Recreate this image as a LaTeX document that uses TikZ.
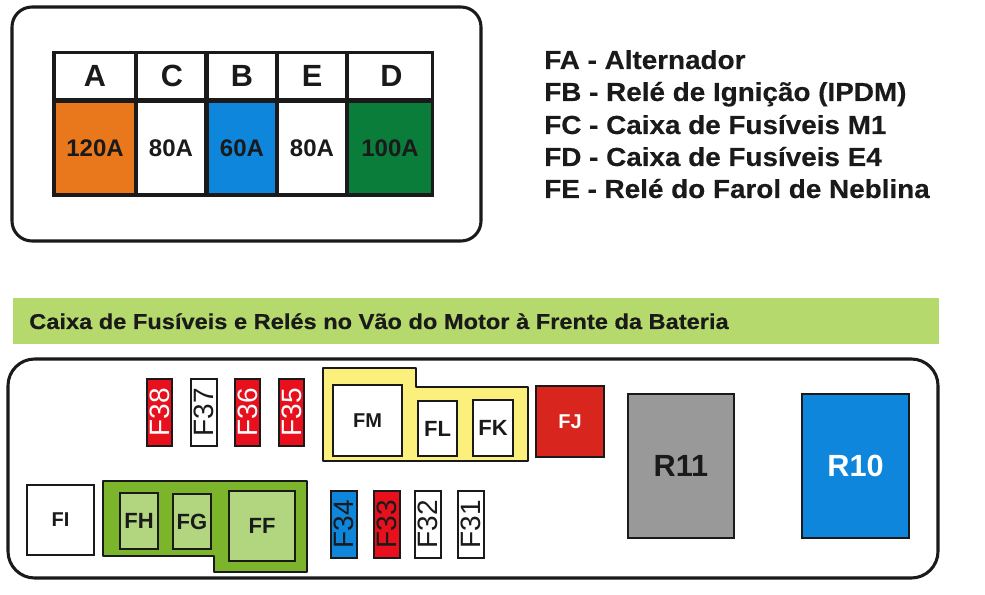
\documentclass[tikz,border=0pt]{standalone}
\usepackage{fontspec}
\setmainfont{Liberation Sans}
\newfontfamily\legendfont[FakeStretch=1.066,FakeBold=0.3]{Liberation Sans Bold}
\newfontfamily\titlefont[FakeStretch=1.10,FakeBold=0.4]{Liberation Sans Bold}
\definecolor{ink}{HTML}{1A1A1A}
\definecolor{orangeF}{HTML}{E9771B}
\definecolor{blueF}{HTML}{0E86DC}
\definecolor{greenF}{HTML}{0B7D3A}
\definecolor{band}{HTML}{B5D96C}
\definecolor{greenD}{HTML}{7CB52B}
\definecolor{greenL}{HTML}{B2D67F}
\definecolor{yellowF}{HTML}{FBF07C}
\definecolor{redF}{HTML}{E8101C}
\definecolor{redJ}{HTML}{D8251E}
\definecolor{grayR}{HTML}{999999}
\newcommand{\bx}[7]{%
  \pgfmathsetmacro{\cxv}{(#2+#4)/2}\pgfmathsetmacro{\cyv}{(#3+#5)/2}%
  \pgfmathsetmacro{\wv}{(#4-#2)*0.75}\pgfmathsetmacro{\hv}{(#5-#3)*0.75}%
  \node[boxn,minimum width=\wv pt,minimum height=\hv pt,#6] (#1) at (\cxv,\cyv) {#7};}
\tikzset{
  x=0.75pt,y=-0.75pt,
  boxn/.style={draw=ink,line width=1.6pt,inner sep=0pt,outer sep=0pt,text=ink,font=\bfseries\fontsize{15}{15}\selectfont},
  fuse/.style={line width=1.2pt,font=\fontsize{21}{21}\selectfont},
  hcell/.style={fill=white,line width=0pt,draw=none,font=\bfseries\fontsize{23}{23}\selectfont},
  acell/.style={draw=none,font=\bfseries\fontsize{18}{18}\selectfont},
  legend/.style={anchor=base west,inner sep=0pt,font=\legendfont\fontsize{19.6}{20}\selectfont,text=ink},
  frame/.style={draw=ink,line width=2.3pt,fill=white},
  tray/.style={draw=ink,line width=1.5pt,line join=round}
}
\begin{document}
\begin{tikzpicture}
\useasboundingbox (0,0) rectangle (985,595);
\fill[white] (0,0) rectangle (985,595);
% top frame
\draw[frame,rounded corners=15pt] (12,7) rectangle (481,241);
\fill[ink] (52,51) rectangle (434,197);
\bx{ha}{56}{54}{134}{98.5}{hcell}{A}
\bx{hc}{138}{54}{204}{98.5}{hcell}{\hspace{1.5pt}C}
\bx{hb}{209}{54}{275}{98.5}{hcell}{B}
\bx{he}{279}{54}{345}{98.5}{hcell}{E}
\bx{hd}{349}{54}{431}{98.5}{hcell}{\hspace{2pt}D}
\bx{va}{56}{103}{134}{193}{acell,fill=orangeF}{120A}
\bx{vc}{138}{103}{204}{193}{acell,fill=white}{80A}
\bx{vb}{209}{103}{275}{193}{acell,fill=blueF}{60A}
\bx{ve}{279}{103}{345}{193}{acell,fill=white}{80A}
\bx{vd}{349}{103}{431}{193}{acell,fill=greenF}{100A}
% legend
\node[legend] (l1) at (544,69) {FA - Alternador};
\node[legend] (l2) at (544,101) {FB - Relé de Ignição (IPDM)};
\node[legend] (l3) at (544,134) {FC - Caixa de Fusíveis M1};
\node[legend] (l4) at (544,166) {FD - Caixa de Fusíveis E4};
\node[legend] (l5) at (544,198) {FE - Relé do Farol de Neblina};
% band
\fill[band] (13,298) rectangle (939,344);
\node[anchor=base west,inner sep=0pt,font=\titlefont\fontsize{16.1}{16}\selectfont,text=ink] (title) at (29,329) {Caixa de Fusíveis e Relés no Vão do Motor à Frente da Bateria};
% bottom frame
\draw[frame,rounded corners=20pt] (8,359) rectangle (938,578);
% trays
\draw[tray,fill=greenD] (103,481) -- (307,481) -- (307,572) -- (214,572) -- (214,556) -- (103,556) -- cycle;
\draw[tray,fill=yellowF] (323,368) -- (416,368) -- (416,387) -- (528,387) -- (528,461) -- (323,461) -- cycle;
% top fuses
\bx{f38}{147}{379}{172}{446}{fuse,fill=redF,text=white}{\rotatebox{90}{F38}}
\bx{f37}{191}{379}{217}{446}{fuse,fill=white}{\rotatebox{90}{F37}}
\bx{f36}{235}{379}{260}{446}{fuse,fill=redF,text=white}{\rotatebox{90}{F36}}
\bx{f35}{279}{379}{304}{446}{fuse,fill=redF,text=white}{\rotatebox{90}{F35}}
% maxi fuses
\bx{fm}{333}{385}{402}{456}{fill=white}{FM}
\bx{fl}{418}{401}{457}{456}{fill=white,font=\bfseries\fontsize{16.5}{16}\selectfont}{FL}
\bx{fk}{473}{400}{513}{456}{fill=white,font=\bfseries\fontsize{16.5}{16}\selectfont}{FK}
\bx{fj}{536}{386}{604}{457}{fill=redJ,text=white}{FJ}
\bx{fi}{27}{485}{94}{555}{fill=white,line width=1.2pt}{FI}
\bx{fh}{120}{493}{158}{549}{fill=greenL,font=\bfseries\fontsize{16.5}{16}\selectfont}{FH}
\bx{fg}{173}{494}{211}{549}{fill=greenL,font=\bfseries\fontsize{16.5}{16}\selectfont}{FG}
\bx{ff}{229}{491}{295}{561}{fill=greenL,font=\bfseries\fontsize{16.5}{16}\selectfont}{FF}
% bottom fuses
\bx{f34}{331}{491}{357}{558}{fuse,fill=blueF}{\rotatebox{90}{F34}}
\bx{f33}{374}{491}{400}{558}{fuse,fill=redF}{\rotatebox{90}{F33}}
\bx{f32}{415}{491}{441}{558}{fuse,fill=white}{\rotatebox{90}{F32}}
\bx{f31}{458}{491}{484}{558}{fuse,fill=white}{\rotatebox{90}{F31}}
% relays
\bx{r11}{628}{394}{734}{538}{fill=grayR,line width=1.2pt,font=\bfseries\fontsize{23}{23}\selectfont}{R11}
\bx{r10}{802}{394}{909}{538}{fill=blueF,line width=1.2pt,text=white,font=\bfseries\fontsize{23}{23}\selectfont}{R10}
\end{tikzpicture}
\end{document}
